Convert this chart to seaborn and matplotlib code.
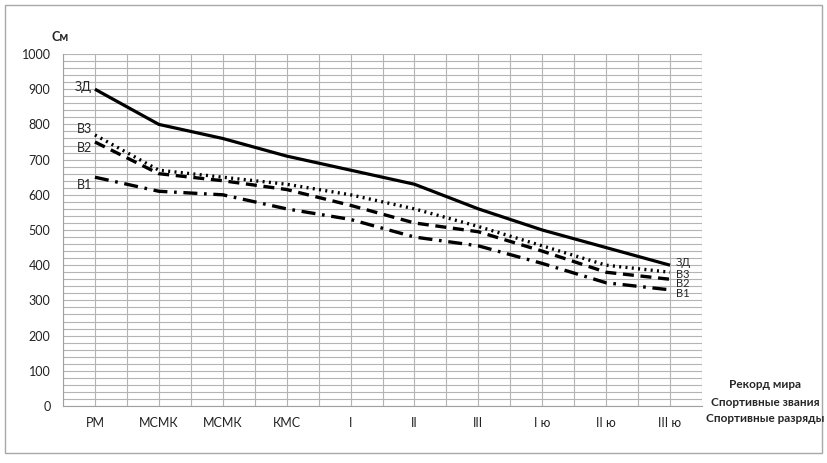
import numpy as np
import pandas as pd
import matplotlib
matplotlib.use("Agg")
import matplotlib.pyplot as plt
from matplotlib.patches import Rectangle
from matplotlib.ticker import MultipleLocator
import seaborn as sns

categories = ["РМ", "МСМК", "МСМК", "КМС", "I", "II", "III", "I ю", "II ю", "III ю"]
zd = [900, 800, 760, 710, 670, 630, 560, 500, 450, 400]
v3 = [770, 670, 650, 630, 600, 560, 510, 455, 400, 380]
v2 = [750, 660, 640, 615, 570, 520, 495, 440, 380, 360]
v1 = [650, 610, 600, 560, 530, 480, 455, 405, 350, 330]
series_names = ["ЗД", "В3", "В2", "В1"]
legend_lines = ["Рекорд мира", "Спортивные звания", "Спортивные разряды"]

sns.set_theme(style="white")
plt.rcParams['font.family'] = ['Lato', 'DejaVu Sans']

fig = plt.figure(figsize=(8.27, 4.63), dpi=100)
ax = fig.add_axes([63/827, 1 - 406/463, (702-63)/827, (406-54)/463])

x = np.arange(len(categories))
styles = {
    "ЗД": dict(lw=2.3, ls="-"),
    "В3": dict(lw=2.4, ls=(0, (0.6, 1.3))),
    "В2": dict(lw=2.4, ls=(0, (3.3, 2.0))),
    "В1": dict(lw=2.4, ls=(0, (4.2, 2.0, 0.8, 2.0))),
}
for name, vals in zip(series_names, [zd, v3, v2, v1]):
    sns.lineplot(x=x, y=vals, ax=ax, color="black", linewidth=styles[name]["lw"],
                 linestyle=styles[name]["ls"], legend=False,
                 dash_capstyle="butt", solid_capstyle="butt")

ax.set_xlim(-0.5, len(categories) - 0.5)
ax.set_ylim(0, 1000)
ax.xaxis.set_major_locator(MultipleLocator(1))
ax.xaxis.set_minor_locator(MultipleLocator(0.5))
ax.yaxis.set_major_locator(MultipleLocator(100))
ax.yaxis.set_minor_locator(MultipleLocator(20))
ax.set_xticks(x)
ax.set_xticklabels(categories)
ax.grid(True, which="both", color="#b4b4b4", linewidth=0.8)
ax.set_axisbelow(True)
for s in ["top", "right"]:
    ax.spines[s].set_visible(False)
for s in ["left", "bottom"]:
    ax.spines[s].set_color("#a0a0a0")
    ax.spines[s].set_linewidth(0.8)
ax.tick_params(axis="both", which="both", length=0, labelsize=9, colors="#222222")
ax.tick_params(axis="y", pad=9)
ax.tick_params(axis="x", pad=8)
ax.set_xlabel("")
ax.set_ylabel("")

# series labels
left_pos = {"ЗД": 906, "В3": 787, "В2": 733, "В1": 628}
right_pos = {"ЗД": 408, "В3": 375, "В2": 347, "В1": 320}
for name in series_names:
    ax.text(-0.05, left_pos[name], name, ha="right", va="center", fontsize=9)
    ax.text(9.09, right_pos[name], name, ha="left", va="center", fontsize=8)

fig.text(60/827, 1 - 37/463, "См", ha="center", va="center", fontsize=9, fontweight="bold")
for i, t in enumerate(legend_lines):
    fig.text(765/827, 1 - (385 + 17*i)/463, t, ha="center", va="center",
             fontsize=8.5, fontweight="bold")

fig.patches.append(Rectangle((5/827, 1 - 453/463), 817/827, 448/463, transform=fig.transFigure,
                             fill=False, edgecolor="#a8a8a8", linewidth=1.0))

fig.savefig("out.png", dpi=100)
